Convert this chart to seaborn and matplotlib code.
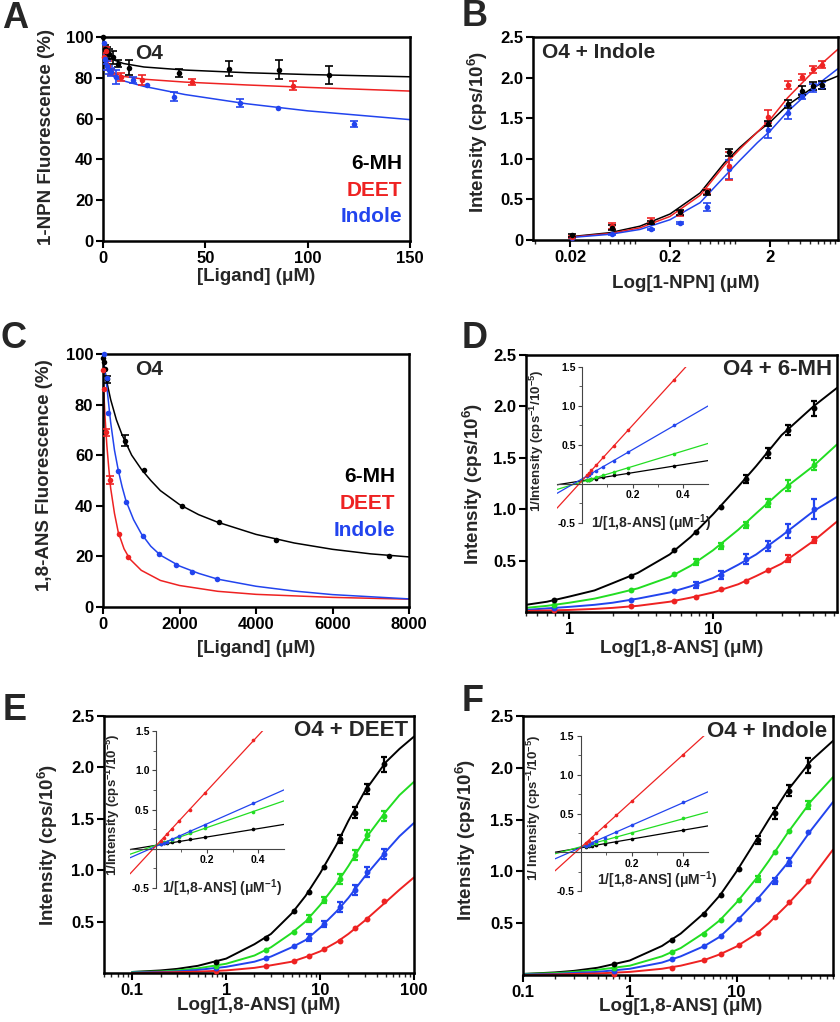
import matplotlib
matplotlib.use("Agg")
import matplotlib.pyplot as plt
import matplotlib.ticker as mticker
import numpy as np
import seaborn as sns

sns.set_style("ticks")
plt.rcParams["font.family"] = ["Liberation Sans", "DejaVu Sans"]
plt.rcParams["font.weight"] = "bold"
plt.rcParams["axes.labelweight"] = "bold"
plt.rcParams["mathtext.fontset"] = "custom"
plt.rcParams["mathtext.rm"] = "Liberation Sans:bold"
plt.rcParams["mathtext.bf"] = "Liberation Sans:bold"
plt.rcParams["mathtext.default"] = "bf"

BLACK = "#000000"
RED = "#ee2222"
BLUE = "#2244ee"
GREEN = "#22dd22"

# ---------------- Panel A : 1-NPN displacement ----------------
a_black_x = [0.2, 1, 2, 3, 4.7, 7.5, 12.9, 37, 61.6, 86, 110.6]
a_black_y = [100, 94, 92, 91.5, 90, 87, 85, 82.5, 84.5, 84, 81.5]
a_black_e = [0, 2, 3, 2.5, 3, 1.5, 3.5, 2, 3.5, 4.5, 4.5]
a_red_x = [0.5, 1.3, 2.5, 4, 8.6, 18.9, 43.3, 93]
a_red_y = [90, 93, 86, 83, 80.5, 79, 77.8, 76.2]
a_red_e = [2, 2, 2, 1.5, 2, 2.5, 1.5, 2]
a_blue_x = [0.5, 1, 2, 3, 4, 6.4, 14.8, 21.6, 34.7, 66.9, 85.6, 122.6]
a_blue_y = [97, 89, 86, 84, 83, 80.5, 79, 76.5, 70.8, 67.8, 65, 57.5]
a_blue_e = [0, 2, 2, 2, 2, 3.5, 1.5, 0, 2, 2, 0, 1.5]
a_fit_x = [0, 0.5, 1, 2, 3, 6, 10, 20, 40, 70, 100, 150]
a_fit_black = [100, 97.5, 95, 92.5, 91, 88.5, 87, 85.3, 83.8, 82.5, 81.6, 80.5]
a_fit_red = [92, 90, 88, 86, 84.5, 82, 80.7, 79.3, 77.9, 76.5, 75.3, 73.5]
a_fit_blue = [91, 88.5, 86, 84, 82.5, 80, 78.5, 75.8, 71.8, 67.3, 63.8, 59.5]

# ---------------- Panel B : 1-NPN binding with indole ----------------
b_x = [0.021, 0.052, 0.13, 0.25, 0.47, 0.77, 1.9, 3.0, 4.2, 5.4, 6.6]
b_black_y = [0.06, 0.15, 0.22, 0.34, 0.59, 1.08, 1.43, 1.67, 1.84, 1.90, 1.91]
b_black_e = [0.02, 0.03, 0.02, 0.03, 0.03, 0.04, 0.03, 0.05, 0.06, 0.05, 0.05]
b_red_y = [0.04, 0.17, 0.24, 0.33, 0.60, 0.91, 1.52, 1.91, 2.01, 2.10, 2.16]
b_red_e = [0.01, 0.04, 0.03, 0.03, 0.03, 0.17, 0.08, 0.05, 0.04, 0.04, 0.04]
b_blue_y = [0.03, 0.07, 0.13, 0.21, 0.41, 0.87, 1.35, 1.57, 1.77, 1.87, 1.90]
b_blue_e = [0.01, 0.01, 0.01, 0.01, 0.05, 0.12, 0.10, 0.08, 0.03, 0.05, 0.04]
b_fit_x = [0.02, 0.05, 0.1, 0.2, 0.4, 0.7, 1, 1.5, 2, 3, 5, 7, 9.6]
b_fit_black = [0.04, 0.09, 0.17, 0.32, 0.58, 0.95, 1.14, 1.33, 1.45, 1.66, 1.85, 1.95, 2.02]
b_fit_red = [0.035, 0.08, 0.15, 0.29, 0.55, 0.92, 1.12, 1.33, 1.48, 1.75, 2.03, 2.2, 2.35]
b_fit_blue = [0.03, 0.07, 0.13, 0.25, 0.46, 0.78, 0.98, 1.2, 1.34, 1.58, 1.83, 1.98, 2.11]

# ---------------- Panel C : 1,8-ANS displacement ----------------
c_black_x = [5, 20, 40, 96, 575, 1072, 2060, 3041, 4523, 7477]
c_black_y = [98.3, 96.7, 94, 90, 65.8, 54, 40, 33.7, 26.5, 20]
c_black_e = [0, 0, 0, 1.5, 2, 0, 0, 0, 0, 0]
c_red_x = [5, 15, 78, 183, 418, 662]
c_red_y = [93.7, 86, 69, 50.2, 28.7, 19.6]
c_red_e = [0, 0, 1.5, 1.5, 0, 0]
c_blue_x = [26, 96, 122, 401, 601, 1037, 1473, 1900, 2318, 2972]
c_blue_y = [100, 90.4, 76.5, 53.8, 41.6, 28.2, 21, 16.6, 13.7, 11]
c_blue_e = [0] * 10
c_fit_black_x = [0, 50, 100, 200, 350, 500, 750, 1000, 1250, 1500, 2000, 2500, 3000,
                 4000, 5000, 6000, 7000, 8000]
c_fit_black = [98, 93.5, 89, 82, 74, 68, 60, 54.5, 50, 46, 40.5, 36.5, 33.5,
               28.7, 25.3, 22.8, 21, 19.8]
c_fit_blue_x = [0, 50, 100, 150, 200, 300, 400, 500, 600, 800, 1000, 1250, 1500, 2000,
                2500, 3000, 4000, 5000, 6000, 8000]
c_fit_blue = [100, 93, 87, 80, 73, 62, 54, 47.5, 42, 34.5, 29, 24, 20.5, 16.2,
              13.3, 11, 8.2, 6.3, 4.9, 3.2]
c_fit_red_x = [0, 10, 25, 50, 100, 150, 200, 300, 400, 550, 700, 1000, 1500, 2000,
               3000, 4000, 6000, 8000]
c_fit_red = [95, 89, 84, 76, 64, 55, 47, 37, 29.5, 23, 19, 14.5, 10.5, 8.5,
             6.2, 5.0, 3.8, 3.1]

# ---------------- Panel D : 1,8-ANS binding with 6-MH ----------------
d_x = [0.78, 2.7, 5.4, 7.6, 11.4, 16.9, 24.2, 33.1, 50.4]
d_black_y = [0.12, 0.35, 0.60, 0.78, 1.02, 1.29, 1.55, 1.77, 1.98]
d_black_e = [0, 0, 0, 0, 0, 0.04, 0.05, 0.05, 0.07]
d_green_y = [0.07, 0.21, 0.37, 0.49, 0.645, 0.85, 1.06, 1.23, 1.43]
d_green_e = [0, 0, 0, 0.03, 0.03, 0.03, 0.04, 0.05, 0.05]
d_blue_y = [0.04, 0.12, 0.20, 0.265, 0.36, 0.515, 0.64, 0.79, 1.0]
d_blue_e = [0, 0, 0, 0.03, 0.04, 0.05, 0.05, 0.07, 0.1]
d_red_y = [0.02, 0.06, 0.11, 0.15, 0.22, 0.305, 0.41, 0.52, 0.70]
d_red_e = [0, 0, 0, 0, 0, 0, 0, 0.03, 0.03]
d_fit_x = [0.5, 0.7, 1, 1.5, 2, 3, 5, 7, 10, 15, 20, 30, 50, 73]
d_fit_black = [0.07, 0.1, 0.15, 0.21, 0.28, 0.38, 0.56, 0.73, 0.95, 1.22, 1.42, 1.72, 2.0, 2.18]
d_fit_green = [0.04, 0.06, 0.09, 0.13, 0.17, 0.23, 0.34, 0.45, 0.6, 0.8, 0.96, 1.18, 1.42, 1.63]
d_fit_blue = [0.02, 0.035, 0.05, 0.07, 0.09, 0.13, 0.19, 0.25, 0.33, 0.46, 0.56, 0.74, 0.98, 1.12]
d_fit_red = [0.01, 0.015, 0.02, 0.03, 0.04, 0.06, 0.1, 0.14, 0.19, 0.27, 0.35, 0.47, 0.69, 0.88]
d_inv_x = [0.364, 0.183, 0.127, 0.084, 0.056, 0.037, 0.027, 0.018]
d_inv_black = [0.23, 0.14, 0.11, 0.085, 0.07, 0.06, 0.055, 0.05]
d_inv_green = [0.39, 0.21, 0.155, 0.11, 0.085, 0.065, 0.055, 0.045]
d_inv_blue = [0.75, 0.41, 0.30, 0.22, 0.17, 0.135, 0.115, 0.10]
d_inv_red = [1.33, 0.69, 0.49, 0.34, 0.24, 0.175, 0.14, 0.11]
d_line_x = [-0.1, 0.5]
d_line_black = [-0.01, 0.30]
d_line_green = [-0.07, 0.52]
d_line_blue = [-0.12, 1.0]
d_line_red_x = [-0.1, 0.42]
d_line_red = [-0.31, 1.53]

# ---------------- Panel E : 1,8-ANS binding with DEET ----------------
e_x = [0.77, 2.64, 5.24, 7.53, 11.1, 16.2, 23.4, 31.7, 48.3]
e_black_y = [0.11, 0.345, 0.60, 0.785, 1.03, 1.30, 1.56, 1.79, 2.03]
e_black_e = [0, 0, 0, 0, 0, 0.04, 0.05, 0.05, 0.07]
e_green_y = [0.07, 0.22, 0.40, 0.53, 0.71, 0.915, 1.15, 1.34, 1.53]
e_green_e = [0, 0, 0, 0.03, 0.03, 0.05, 0.05, 0.05, 0.05]
e_blue_y = [0.05, 0.145, 0.26, 0.345, 0.48, 0.64, 0.81, 0.98, 1.16]
e_blue_e = [0, 0, 0, 0.03, 0.03, 0.05, 0.05, 0.05, 0.05]
e_red_y = [0.015, 0.065, 0.12, 0.17, 0.23, 0.315, 0.435, 0.53, 0.70]
e_red_e = [0] * 9
e_fit_x = [0.1, 0.2, 0.3, 0.5, 1, 2, 3, 5, 7, 10, 15, 20, 30, 50, 70, 100]
e_fit_black = [0.01, 0.025, 0.04, 0.07, 0.14, 0.28, 0.38, 0.58, 0.75, 0.97, 1.25, 1.48, 1.77, 2.05, 2.18, 2.3]
e_fit_green = [0.01, 0.015, 0.025, 0.045, 0.09, 0.17, 0.25, 0.39, 0.5, 0.66, 0.87, 1.04, 1.3, 1.57, 1.73, 1.86]
e_fit_blue = [0.005, 0.01, 0.015, 0.03, 0.06, 0.11, 0.16, 0.25, 0.32, 0.44, 0.6, 0.73, 0.94, 1.18, 1.33, 1.46]
e_fit_red = [0.0, 0.005, 0.008, 0.013, 0.025, 0.05, 0.075, 0.11, 0.155, 0.21, 0.3, 0.38, 0.51, 0.69, 0.81, 0.93]
e_inv_x = [0.379, 0.191, 0.133, 0.090, 0.062, 0.043, 0.032, 0.021]
e_inv_black = [0.25, 0.15, 0.12, 0.10, 0.085, 0.075, 0.07, 0.063]
e_inv_green = [0.47, 0.26, 0.195, 0.145, 0.115, 0.09, 0.08, 0.067]
e_inv_blue = [0.58, 0.30, 0.22, 0.16, 0.12, 0.09, 0.075, 0.06]
e_inv_red = [1.38, 0.71, 0.50, 0.35, 0.25, 0.185, 0.14, 0.10]
e_line_x = [-0.1, 0.5]
e_line_black = [-0.01, 0.31]
e_line_green = [-0.07, 0.61]
e_line_blue = [-0.115, 0.75]
e_line_red_x = [-0.1, 0.43]
e_line_red = [-0.32, 1.55]

# ---------------- Panel F : 1,8-ANS binding with indole ----------------
f_x = [0.71, 2.5, 4.94, 7.08, 10.5, 16, 22.8, 30.9, 46.6]
f_black_y = [0.11, 0.34, 0.59, 0.77, 1.02, 1.30, 1.56, 1.78, 2.02]
f_black_e = [0, 0, 0, 0, 0, 0.04, 0.05, 0.05, 0.07]
f_green_y = [0.065, 0.22, 0.40, 0.53, 0.72, 0.93, 1.19, 1.39, 1.64]
f_green_e = [0, 0, 0, 0, 0, 0.03, 0, 0, 0.04]
f_blue_y = [0.04, 0.15, 0.28, 0.38, 0.54, 0.73, 0.91, 1.09, 1.38]
f_blue_e = [0, 0, 0, 0, 0, 0, 0.03, 0.04, 0]
f_red_y = [0.01, 0.07, 0.14, 0.20, 0.285, 0.41, 0.56, 0.70, 0.91]
f_red_e = [0] * 9
f_fit_x = [0.1, 0.2, 0.3, 0.5, 1, 2, 3, 5, 7, 10, 15, 20, 30, 50, 80]
f_fit_black = [0.01, 0.025, 0.04, 0.07, 0.14, 0.28, 0.4, 0.6, 0.77, 1.0, 1.29, 1.5, 1.78, 2.07, 2.26]
f_fit_green = [0.01, 0.018, 0.03, 0.05, 0.09, 0.18, 0.26, 0.41, 0.53, 0.7, 0.92, 1.1, 1.37, 1.68, 1.91]
f_fit_blue = [0.005, 0.01, 0.02, 0.03, 0.06, 0.12, 0.18, 0.28, 0.37, 0.52, 0.71, 0.86, 1.08, 1.40, 1.67]
f_fit_red = [0.0, 0.005, 0.01, 0.015, 0.03, 0.06, 0.09, 0.145, 0.2, 0.275, 0.39, 0.5, 0.68, 0.93, 1.21]
f_inv_x = [0.40, 0.202, 0.141, 0.095, 0.0625, 0.044, 0.032, 0.021]
f_inv_black = [0.29, 0.17, 0.135, 0.11, 0.09, 0.08, 0.075, 0.07]
f_inv_green = [0.44, 0.25, 0.195, 0.15, 0.12, 0.105, 0.095, 0.085]
f_inv_blue = [0.65, 0.35, 0.26, 0.19, 0.145, 0.12, 0.10, 0.085]
f_inv_red = [1.25, 0.66, 0.48, 0.345, 0.245, 0.19, 0.15, 0.115]
f_line_x = [-0.1, 0.5]
f_line_black = [0.0, 0.34]
f_line_green = [-0.02, 0.52]
f_line_blue = [-0.085, 0.78]
f_line_red_x = [-0.1, 0.5]
f_line_red = [-0.24, 1.55]

W, H = 840, 1022
fig = plt.figure(figsize=(W / 100, H / 100), dpi=100)

TICK = 12
LABEL = 13.5


def px_axes(left, top, right, bottom):
    return fig.add_axes([left / W, 1 - bottom / H, (right - left) / W, (bottom - top) / H])


def style_main(ax):
    for s in ax.spines.values():
        s.set_linewidth(1.8)
        s.set_color("black")
    ax.tick_params(which="major", direction="out", length=5, width=1.5,
                   labelsize=TICK, top=False, right=False, pad=2, colors="black")
    ax.tick_params(which="minor", direction="out", length=3, width=1.0,
                   top=False, right=False)


def draw_points(ax, x, y, err, color, s=16, elw=1.2, cap=3):
    x, y, err = np.asarray(x), np.asarray(y), np.asarray(err)
    m = err > 0
    if m.any():
        ax.errorbar(x[m], y[m], yerr=err[m], fmt="none", ecolor=color,
                    elinewidth=elw, capsize=cap, capthick=elw, zorder=3)
    sns.scatterplot(x=x, y=y, color=color, s=s, linewidth=0, ax=ax,
                    zorder=4, legend=False, clip_on=False)


def draw_curve(ax, x, y, color, lw=1.1):
    sns.lineplot(x=x, y=y, color=color, lw=lw, ax=ax, sort=False,
                 estimator=None, zorder=2)


def set_labels(ax, xlabel, ylabel, xpos, ypos, size=LABEL):
    ax.set_xlabel(xlabel, fontsize=size)
    ax.set_ylabel(ylabel, fontsize=size)
    ax.xaxis.set_label_coords(*xpos)
    ax.yaxis.set_label_coords(*ypos)


def log_ticks(ax, ticks, labels):
    ax.xaxis.set_major_locator(mticker.FixedLocator(ticks))
    ax.xaxis.set_major_formatter(mticker.FixedFormatter(labels))
    ax.xaxis.set_minor_locator(mticker.LogLocator(base=10, subs=np.arange(2, 10), numticks=20))
    ax.xaxis.set_minor_formatter(mticker.NullFormatter())


def intensity_y(ax, with_zero):
    ticks = [0, 0.5, 1.0, 1.5, 2.0, 2.5] if with_zero else [0.5, 1.0, 1.5, 2.0, 2.5]
    ax.set_ylim(0, 2.5)
    ax.yaxis.set_major_locator(mticker.FixedLocator(ticks))
    ax.yaxis.set_major_formatter(mticker.FixedFormatter(
        ["0" if t == 0 else f"{t:.1f}" for t in ticks]))


def draw_inset(box, xs, pts, lines, ylabel, xlab_pos, ylab_pos):
    ax = px_axes(*box)
    ax.set_facecolor("none")
    ax.set_xlim(-0.1, 0.5)
    ax.set_ylim(-0.5, 1.5)
    for side in ["top", "right"]:
        ax.spines[side].set_visible(False)
    for side in ["left", "bottom"]:
        ax.spines[side].set_position(("data", 0))
        ax.spines[side].set_linewidth(0.8)
        ax.spines[side].set_color("#444444")
    for color, lx, ly in lines:
        draw_curve(ax, lx, ly, color, lw=0.9)
    for color, ys in pts:
        sns.scatterplot(x=xs, y=ys, color=color, s=7, linewidth=0, ax=ax,
                        zorder=4, legend=False)
    ax.yaxis.set_major_locator(mticker.FixedLocator([-0.5, 0, 0.5, 1.0, 1.5]))
    ax.yaxis.set_major_formatter(mticker.FixedFormatter(["-0.5", "", "0.5", "1.0", "1.5"]))
    ax.yaxis.set_minor_locator(mticker.FixedLocator([-0.25, 0.25, 0.75, 1.25]))
    ax.xaxis.set_major_locator(mticker.FixedLocator([0.2, 0.4]))
    ax.xaxis.set_major_formatter(mticker.FixedFormatter(["0.2", "0.4"]))
    ax.xaxis.set_minor_locator(mticker.FixedLocator([0.1, 0.3]))
    ax.tick_params(which="major", direction="out", length=3, width=0.8,
                   labelsize=7.5, pad=1.5, colors="#444444", labelcolor="black")
    ax.tick_params(which="minor", direction="out", length=2, width=0.6, colors="#444444")
    ax.set_xlabel("1/[1,8-ANS] (μM$^{-1}$)", fontsize=10)
    ax.set_ylabel(ylabel, fontsize=9.5)
    ax.xaxis.set_label_coords(*xlab_pos)
    ax.yaxis.set_label_coords(*ylab_pos)
    return ax


# ---------- A ----------
axA = px_axes(103, 37, 410, 241)
style_main(axA)
draw_curve(axA, a_fit_x, a_fit_black, BLACK)
draw_curve(axA, a_fit_x, a_fit_red, RED)
draw_curve(axA, a_fit_x, a_fit_blue, BLUE)
draw_points(axA, a_black_x, a_black_y, a_black_e, BLACK)
draw_points(axA, a_red_x, a_red_y, a_red_e, RED)
draw_points(axA, a_blue_x, a_blue_y, a_blue_e, BLUE)
axA.set_xlim(0, 150)
axA.set_ylim(0, 100)
axA.set_xticks([0, 50, 100, 150])
axA.set_yticks([0, 20, 40, 60, 80, 100])
set_labels(axA, "[Ligand] (μM)", "1-NPN Fluorescence (%)", (0.5, -0.13), (-0.156, 0.51))
axA.text(0.104, 0.92, "O4", transform=axA.transAxes, fontsize=15, va="center")
for txt, col, yy in [("6-MH", BLACK, 0.38), ("DEET", RED, 0.25), ("Indole", BLUE, 0.118)]:
    axA.text(0.974, yy, txt, color=col, transform=axA.transAxes, fontsize=15,
             ha="right", va="center")

# ---------- B ----------
axB = px_axes(533, 37, 838, 240)
style_main(axB)
axB.set_xscale("log")
draw_curve(axB, b_fit_x, b_fit_black, BLACK)
draw_curve(axB, b_fit_x, b_fit_red, RED)
draw_curve(axB, b_fit_x, b_fit_blue, BLUE)
draw_points(axB, b_x, b_blue_y, b_blue_e, BLUE)
draw_points(axB, b_x, b_red_y, b_red_e, RED)
draw_points(axB, b_x, b_black_y, b_black_e, BLACK)
axB.set_xlim(0.0085, 9.6)
log_ticks(axB, [0.02, 0.2, 2], ["0.02", "0.2", "2"])
intensity_y(axB, True)
set_labels(axB, "Log[1-NPN] (μM)", "Intensity (cps/10$^{6}$)", (0.5, -0.17), (-0.141, 0.53))
axB.text(0.03, 0.926, "O4 + Indole", transform=axB.transAxes, fontsize=15, va="center")

# ---------- C ----------
axC = px_axes(103, 354, 409, 607)
style_main(axC)
draw_curve(axC, c_fit_black_x, c_fit_black, BLACK)
draw_curve(axC, c_fit_red_x, c_fit_red, RED)
draw_curve(axC, c_fit_blue_x, c_fit_blue, BLUE)
draw_points(axC, c_black_x, c_black_y, c_black_e, BLACK)
draw_points(axC, c_red_x, c_red_y, c_red_e, RED)
draw_points(axC, c_blue_x, c_blue_y, c_blue_e, BLUE)
axC.set_xlim(0, 8000)
axC.set_ylim(0, 100)
axC.set_xticks([0, 2000, 4000, 6000, 8000])
axC.set_yticks([0, 20, 40, 60, 80, 100])
set_labels(axC, "[Ligand] (μM)", "1,8-ANS Fluorescence (%)", (0.5, -0.13), (-0.163, 0.52))
axC.text(0.105, 0.937, "O4", transform=axC.transAxes, fontsize=15, va="center")
for txt, col, yy in [("6-MH", BLACK, 0.514), ("DEET", RED, 0.41), ("Indole", BLUE, 0.304)]:
    axC.text(0.954, yy, txt, color=col, transform=axC.transAxes, fontsize=15,
             ha="right", va="center")

# ---------- D / E / F ----------
panels = [
    dict(box=(526, 355, 837, 612), xlim=(0.5, 73), ticks=[1, 10], labels=["1", "10"],
         fx=d_fit_x, fits=[d_fit_black, d_fit_green, d_fit_blue, d_fit_red],
         px=d_x, ys=[d_black_y, d_green_y, d_blue_y, d_red_y],
         es=[d_black_e, d_green_e, d_blue_e, d_red_e],
         xlab=(0.5, -0.11), ylab=(-0.132, 0.5), tag="O4 + 6-MH", tagpos=(0.984, 0.942),
         inset=(557, 367, 708, 523), ix=d_inv_x,
         iy=[d_inv_black, d_inv_green, d_inv_blue, d_inv_red],
         lines=[(BLACK, d_line_x, d_line_black), (GREEN, d_line_x, d_line_green),
                (BLUE, d_line_x, d_line_blue), (RED, d_line_red_x, d_line_red)],
         iylabel="1/Intensity (cps$^{-1}$/10$^{-5}$)", ixpos=(0.62, 0.07), iypos=(-0.07, 0.53)),
    dict(box=(104, 716, 414, 973), xlim=(0.05, 100), ticks=[0.1, 1, 10, 100],
         labels=["0.1", "1", "10", "100"],
         fx=e_fit_x, fits=[e_fit_black, e_fit_green, e_fit_blue, e_fit_red],
         px=e_x, ys=[e_black_y, e_green_y, e_blue_y, e_red_y],
         es=[e_black_e, e_green_e, e_blue_e, e_red_e],
         xlab=(0.5, -0.093), ylab=(-0.142, 0.5), tag="O4 + DEET", tagpos=(0.98, 0.945),
         inset=(130, 731, 284, 888), ix=e_inv_x,
         iy=[e_inv_black, e_inv_green, e_inv_blue, e_inv_red],
         lines=[(BLACK, e_line_x, e_line_black), (GREEN, e_line_x, e_line_green),
                (BLUE, e_line_x, e_line_blue), (RED, e_line_red_x, e_line_red)],
         iylabel="1/Intensity (cps$^{-1}$/10$^{-5}$)", ixpos=(0.6, 0.07), iypos=(-0.05, 0.53)),
    dict(box=(523, 716, 833, 975), xlim=(0.1, 80), ticks=[0.1, 1, 10],
         labels=["0.1", "1", "10"],
         fx=f_fit_x, fits=[f_fit_black, f_fit_green, f_fit_blue, f_fit_red],
         px=f_x, ys=[f_black_y, f_green_y, f_blue_y, f_red_y],
         es=[f_black_e, f_green_e, f_blue_e, f_red_e],
         xlab=(0.51, -0.09), ylab=(-0.145, 0.52), tag="O4 + Indole", tagpos=(0.98, 0.942),
         inset=(555, 736, 708, 891), ix=f_inv_x,
         iy=[f_inv_black, f_inv_green, f_inv_blue, f_inv_red],
         lines=[(BLACK, f_line_x, f_line_black), (GREEN, f_line_x, f_line_green),
                (BLUE, f_line_x, f_line_blue), (RED, f_line_red_x, f_line_red)],
         iylabel="1/ Intensity (cps$^{-1}$/10$^{-5}$)", ixpos=(0.67, 0.14), iypos=(-0.08, 0.535)),
]

colors4 = [BLACK, GREEN, BLUE, RED]
for p in panels:
    ax = px_axes(*p["box"])
    style_main(ax)
    ax.set_xscale("log")
    for col, fit in zip(colors4, p["fits"]):
        draw_curve(ax, p["fx"], fit, col, lw=1.4)
    for col, yy, ee in zip(colors4[::-1], p["ys"][::-1], p["es"][::-1]):
        draw_points(ax, p["px"], yy, ee, col, s=18, elw=1.6, cap=2.5)
    ax.set_xlim(*p["xlim"])
    log_ticks(ax, p["ticks"], p["labels"])
    intensity_y(ax, False)
    set_labels(ax, "Log[1,8-ANS] (μM)", "Intensity (cps/10$^{6}$)", p["xlab"], p["ylab"])
    ax.text(*p["tagpos"], p["tag"], transform=ax.transAxes, fontsize=16,
            ha="right", va="center")
    draw_inset(p["inset"], p["ix"], list(zip(colors4, p["iy"])), p["lines"],
               p["iylabel"], p["ixpos"], p["iypos"])

# panel letters
for letter, x, y in [("A", 15, 18), ("B", 475, 17), ("C", 14, 339),
                     ("D", 475, 338), ("E", 15, 710), ("F", 473, 701)]:
    fig.text(x / W, 1 - y / H, letter, fontsize=26, ha="center", va="center")

fig.savefig("out.png", dpi=100, facecolor="white")
